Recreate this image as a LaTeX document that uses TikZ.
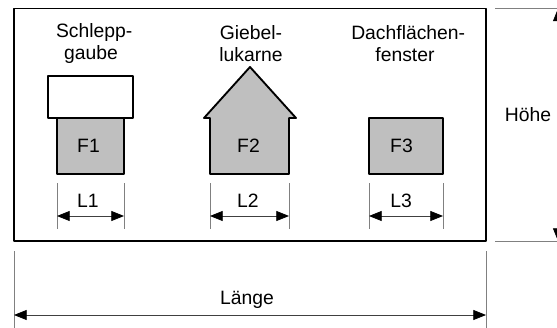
\documentclass[tikz,border=0pt]{standalone}
\usepackage{fontspec}
\setmainfont{Liberation Sans}
\usetikzlibrary{arrows.meta, positioning}

\begin{document}
\begin{tikzpicture}[
  x=0.75pt, y=-0.75pt,
  every node/.style={align=center, font=\fontsize{14.5}{16.5}\selectfont, inner sep=0pt},
  part/.style={draw, line width=1.4pt, line join=round, fill=black!25},
  arrow/.style={{Triangle[length=9.5pt, width=7.5pt, black]}-{Triangle[length=9.5pt, width=7.5pt, black]}, line width=0.6pt, black!75},
  guide/.style={line width=0.6pt, black!50}
]
\useasboundingbox (0,0) rectangle (557,328);

% Frame
\node (frame) [draw, line width=1.4pt, line join=round, minimum width=354pt, minimum height=174.4pt] at (250,124.75) {};

% Titles
\node (schlepp) at (91,43.5) {Schlepp\rlap{-}\\gaube};
\node (giebel) at (251,43.5) {Giebel-\\lukarne};
\node (dach) at (405,43.5) {Dachflächen\rlap{-}\\fenster};

% Parts
\node (roof) [part, fill=white, minimum width=63.75pt, minimum height=31.5pt] at (90.5,97) {};
\node (f1) [part, minimum width=50.25pt, minimum height=42pt] at (90.5,146) {};
\node (f1text) at (88.5,145.5) {F1};
\draw [part] (210,174) -- (210,118) -- (204,118) -- (250,67) -- (296,118) -- (289,118) -- (289,174) -- cycle;
\node (f2) at (248.5,145.5) {F2};
\node (f3) [part, minimum width=55.5pt, minimum height=42pt] at (406,146) {};
\node (f3text) at (401.5,145.5) {F3};

% Dimensions
\foreach \name/\xa/\xb/\xl/\lab in {l1/57/124/88/L1, l2/210/289/248/L2, l3/369/443/401/L3} {
  \coordinate (\name a) at (\xa,183);
  \coordinate (\name b) at (\xb,183);
  \coordinate (\name c) at (\xa,229);
  \coordinate (\name d) at (\xb,229);
  \coordinate (\name e) at (\xa,216);
  \coordinate (\name f) at (\xb,216);
  \draw [guide] (\name a) -- (\name c);
  \draw [guide] (\name b) -- (\name d);
  \draw [arrow] (\name e) -- (\name f);
  \node (\name) at (\xl,201) {\lab};
}

% Length
\coordinate (la) at (14,251);
\coordinate (lb) at (486,251);
\coordinate (lc) at (14,328);
\coordinate (ld) at (486,328);
\coordinate (le) at (14,315);
\coordinate (lf) at (486,315);
\draw [guide] (la) -- (lc);
\draw [guide] (lb) -- (ld);
\draw [arrow] (le) -- (lf);
\node (laenge) at (247,300) {Länge};

% Height
\coordinate (ha) at (495,8.5);
\coordinate (hb) at (557,8.5);
\coordinate (hc) at (495,241);
\coordinate (hd) at (557,241);
\coordinate (he) at (558,8.5);
\coordinate (hf) at (558,241);
\draw [guide] (ha) -- (hb);
\draw [guide] (hc) -- (hd);
\draw [arrow] (he) -- (hf);
\node (hoehe) at (528,115) {Höhe};

\end{tikzpicture}
\end{document}
